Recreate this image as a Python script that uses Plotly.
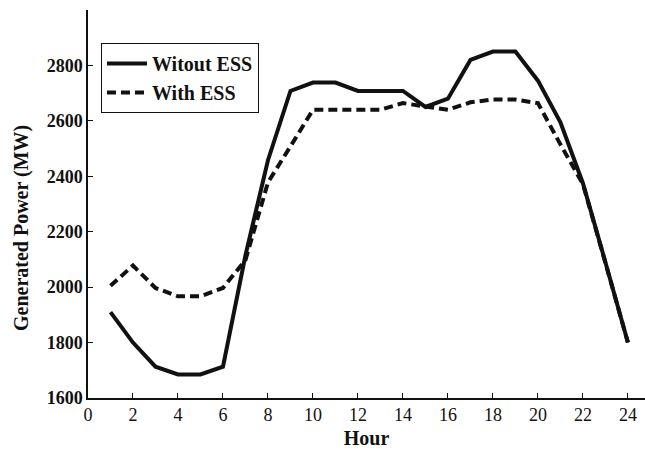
import plotly.graph_objects as go

hours = list(range(1, 25))
without_ess = [1910, 1800, 1713, 1685, 1685, 1713, 2115, 2458, 2708, 2738,
               2738, 2708, 2708, 2708, 2650, 2680, 2820, 2850, 2850, 2745,
               2595, 2375, 2090, 1800]
with_ess = [2005, 2078, 1997, 1967, 1967, 1997, 2098, 2378, 2508, 2640,
            2640, 2640, 2640, 2664, 2652, 2640, 2667, 2677, 2677, 2664,
            2515, 2372, 2088, 1800]

x_ticks = list(range(0, 25, 2))
y_ticks = [1600, 1800, 2000, 2200, 2400, 2600, 2800, 3000]
y_ticktext = ["1600", "1800", "2000", "2200", "2400", "2600", "2800", ""]

font_family = "'Liberation Serif', 'Times New Roman', Times, serif"

fig = go.Figure()
fig.add_trace(go.Scatter(x=hours, y=without_ess, mode="lines", name="<b>Witout ESS</b>",
                         line=dict(color="#111111", width=4)))
fig.add_trace(go.Scatter(x=hours, y=with_ess, mode="lines", name="<b>With ESS</b>",
                         line=dict(color="#111111", width=4, dash="9px,5px")))

fig.update_layout(
    width=645, height=449,
    margin=dict(l=88, r=0, t=10, b=51),
    paper_bgcolor="white", plot_bgcolor="white",
    font=dict(family=font_family, size=18, color="#111111"),
    showlegend=True,
    legend=dict(x=0.0233, y=0.915, xanchor="left", yanchor="top",
                bordercolor="#111111", borderwidth=1, bgcolor="white",
                font=dict(family=font_family, size=20, color="#111111"),
                tracegroupgap=0, itemwidth=40),
    xaxis=dict(range=[0, 24.76], tickvals=x_ticks, ticks="inside", ticklen=5,
               tickcolor="#111111", showline=True, linecolor="#111111", linewidth=1.5,
               showgrid=False, zeroline=False, automargin=False,
               tickprefix="<b>", ticksuffix="</b>",
               tickfont=dict(family=font_family, size=18, color="#111111"),
               title=dict(text="<b>Hour</b>", standoff=7,
                          font=dict(family=font_family, size=20, color="#111111"))),
    yaxis=dict(range=[1600, 3000], tickvals=y_ticks, ticktext=["<b>%s</b>" % t if t else "" for t in y_ticktext],
               ticks="inside", ticklen=5, tickcolor="#111111",
               showline=True, linecolor="#111111", linewidth=1.5,
               showgrid=False, zeroline=False, automargin=False,
               tickfont=dict(family=font_family, size=18, color="#111111")),
    annotations=[dict(text="<b>Generated Power (MW)</b>", textangle=-90,
                      xref="paper", yref="paper", x=-0.1203, y=0.438,
                      xanchor="center", yanchor="middle", showarrow=False,
                      font=dict(family=font_family, size=20, color="#111111"))],
)

fig.write_html("out.html", config={"displayModeBar": False},
               post_script="document.body.style.margin='0';document.body.style.overflow='hidden';")
